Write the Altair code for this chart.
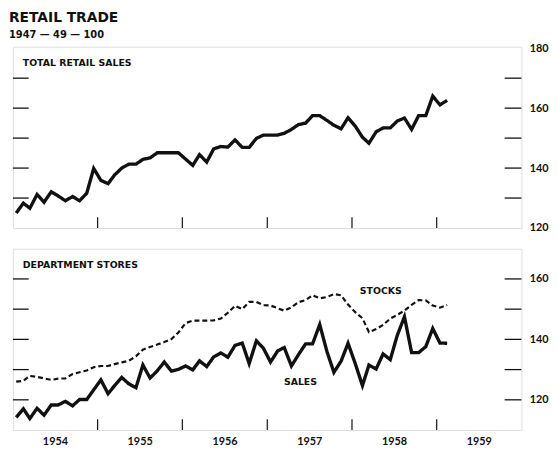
import altair as alt
import pandas as pd

# Monthly data, Jan 1954 - Feb 1959 (index 1947-49 = 100)
retail_sales = [125.0, 128.3, 126.6, 131.2, 128.6, 132.1, 130.7, 129.1, 130.5, 129.1, 131.6, 139.9,
                135.9, 134.8, 137.7, 140.0, 141.3, 141.3, 142.9, 143.4, 145.1, 145.1, 145.1, 145.1,
                143.0, 140.9, 144.5, 142.0, 146.4, 147.2, 147.0, 149.4, 146.9, 146.9, 149.9, 151.0,
                151.0, 151.0, 151.6, 152.9, 154.5, 155.0, 157.5, 157.5, 155.9, 154.3, 153.1, 156.8,
                154.0, 150.3, 148.3, 152.1, 153.4, 153.4, 155.7, 156.7, 152.9, 157.5, 157.5, 164.0,
                161.1, 162.6]
dept_sales = [114.2, 117.0, 113.8, 117.2, 114.9, 118.3, 118.3, 119.5, 118.0, 120.1, 120.1, 123.3,
              126.6, 122.0, 124.7, 127.4, 125.3, 124.0, 131.5, 127.2, 129.6, 132.5, 129.5, 130.1,
              131.2, 129.9, 132.9, 131.0, 134.2, 135.5, 134.1, 138.0, 138.8, 132.0, 139.5, 137.1,
              132.5, 136.2, 137.3, 131.2, 134.9, 138.5, 138.5, 144.9, 136.0, 129.1, 132.8, 138.7,
              132.0, 124.7, 131.5, 130.2, 135.2, 133.3, 141.3, 147.5, 135.6, 135.6, 137.6, 143.6,
              138.8, 138.7]
dept_stocks = [126.0, 126.3, 127.9, 127.6, 127.1, 126.6, 127.0, 127.1, 128.5, 129.1, 129.7, 130.8,
               131.2, 131.2, 131.8, 132.4, 132.9, 134.4, 136.6, 137.5, 138.3, 139.1, 140.1, 142.3,
               145.4, 146.2, 146.2, 146.2, 146.3, 146.9, 148.8, 151.1, 150.0, 152.4, 152.4, 151.3,
               151.2, 150.3, 149.5, 150.6, 152.3, 153.0, 154.6, 153.6, 154.0, 155.0, 154.6, 151.5,
               149.0, 147.0, 142.4, 143.4, 144.8, 146.9, 148.1, 149.5, 151.4, 153.0, 152.9, 151.2,
               150.5, 151.4]
year_labels = [1954, 1955, 1956, 1957, 1958, 1959]
top_ticks = [130, 140, 150, 160, 170]
top_labels = [120, 140, 160, 180]
bot_ticks = [120, 130, 140, 150, 160]
bot_labels = [120, 140, 160]

dates = (pd.date_range("1954-01-01", periods=len(retail_sales), freq="MS") + pd.Timedelta(days=14)).strftime("%Y-%m-%d")
df = pd.DataFrame({"date": dates, "retail": retail_sales, "sales": dept_sales, "stocks": dept_stocks})
year_df = pd.DataFrame({"d": [f"{y}-01-01" for y in year_labels[1:]]})

W, H = 516, 184
FONT = "DejaVu Sans"
NUMFONT = "Lato"
xscale = alt.Scale(domain=[alt.DateTime(year=1954, month=1, date=1, utc=True),
                           alt.DateTime(year=1960, month=1, date=1, utc=True)])


def panel(ydomain, ticks, labels, lines, label_text, show_x):
    yscale = alt.Scale(domain=ydomain, nice=False, zero=False)
    base = alt.Chart(df)
    layers = []
    for field, dash, sw in lines:
        xenc = alt.X("date:T", scale=xscale, title=None,
                     axis=(alt.Axis(values=[alt.DateTime(year=y, month=7, date=1) for y in year_labels],
                                    format="%Y", ticks=False, domain=False, grid=False,
                                    labelFontSize=11, labelFontWeight="bold", labelFont=NUMFONT,
                                    labelPadding=6, labelColor="#111") if show_x else None))
        layers.append(base.mark_line(color="#111", strokeWidth=sw, strokeDash=dash,
                                     strokeJoin="miter").encode(
            x=xenc,
            y=alt.Y(f"{field}:Q", scale=yscale, title=None,
                    axis=alt.Axis(orient="right", values=labels, ticks=False, domain=False, grid=False,
                                  labelFontSize=11, labelFontWeight="bold", labelFont=NUMFONT,
                                  labelPadding=8, labelColor="#111"))))
    tdf = pd.DataFrame({"v": ticks})
    layers.append(alt.Chart(tdf).mark_rule(color="#111", strokeWidth=1.3).encode(
        y=alt.Y("v:Q", scale=yscale), x=alt.value(0), x2=alt.value(16)))
    layers.append(alt.Chart(tdf).mark_rule(color="#111", strokeWidth=1.3).encode(
        y=alt.Y("v:Q", scale=yscale), x=alt.value(W - 17), x2=alt.value(W)))
    layers.append(alt.Chart(year_df).mark_rule(color="#111", strokeWidth=1.2).encode(
        x=alt.X("d:T", scale=xscale), y=alt.value(H), y2=alt.value(H - 11)))
    layers.append(alt.Chart(pd.DataFrame({"t": [label_text]})).mark_text(
        align="left", baseline="alphabetic", fontSize=9.5, fontWeight="bold", font=FONT, color="#111").encode(
        text="t:N", x=alt.value(10), y=alt.value(20)))
    return alt.layer(*layers).properties(width=W, height=H)


top = panel([120, 180.5], top_ticks, top_labels, [("retail", [1, 0], 3.4)], "TOTAL  RETAIL  SALES", False)

bottom = panel([110, 170], bot_ticks, bot_labels, [("stocks", [5, 3], 2.2), ("sales", [1, 0], 3.4)],
               "DEPARTMENT  STORES", True)
ann = alt.Chart(pd.DataFrame({"t": ["STOCKS", "SALES"], "px": [352, 275], "py": [46, 138]})).mark_text(
    align="left", baseline="alphabetic", fontSize=9.5, fontWeight="bold", font=FONT, color="#111").encode(
    text="t:N", x=alt.X("px:Q", scale=None), y=alt.Y("py:Q", scale=None))
bottom = alt.layer(bottom, ann)

chart = alt.vconcat(top, bottom, spacing=14).properties(
    title=alt.TitleParams(text="RETAIL  TRADE", subtitle="1947 — 49 — 100", anchor="start",
                          font=FONT, fontSize=14, fontWeight="bold", color="#111",
                          subtitleFont=FONT, subtitleFontSize=10, subtitleFontWeight="bold",
                          subtitleColor="#111", subtitlePadding=5, offset=2),
    padding={"left": 0, "top": 0, "right": 0, "bottom": 0},
).configure_view(stroke="#111", strokeWidth=1.5).configure(background="white")

chart.save("out.html", embed_options={"renderer": "svg", "actions": False})
